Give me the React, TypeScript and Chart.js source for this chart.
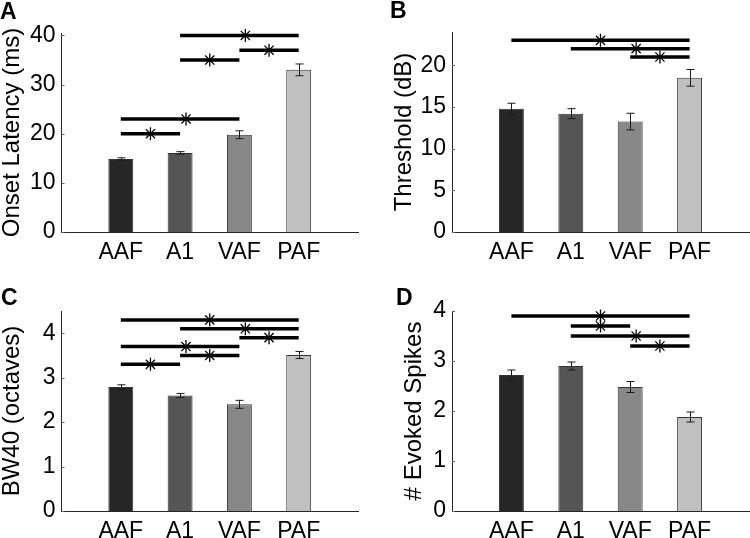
import React, { useEffect, useRef } from 'react';
import { Chart, registerables } from 'chart.js';

Chart.register(...registerables);

const FONT = "'Liberation Sans', Arial, Helvetica, sans-serif";

const groups = ['AAF', 'A1', 'VAF', 'PAF'];
const barColors = ['#262626', '#555555', '#888888', '#c0c0c0'];

// Panel A – onset latency
const latencyMean = [14.85, 16.1, 19.8, 33.0];
const latencyErr = [0.25, 0.25, 0.8, 1.2];
const latencyYTicks = [0, 10, 20, 30, 40];
const latencySigFrom = [1, 1, 2, 3, 2];
const latencySigTo = [2, 3, 3, 4, 4];
const latencySigY = [20, 23, 35, 37, 40];
const latencySigStar = [1.5, 2.1, 2.5, 3.5, 3.1];

// Panel B – threshold
const thresholdMean = [14.8, 14.2, 13.25, 18.5];
const thresholdErr = [0.65, 0.6, 1.0, 1.0];
const thresholdYTicks = [0, 5, 10, 15, 20];
const thresholdSigFrom = [1, 2, 3];
const thresholdSigTo = [4, 4, 4];
const thresholdSigY = [23, 22, 21];
const thresholdSigStar = [2.5, 3.1, 3.5];

// Panel C – BW40
const bwMean = [2.79, 2.6, 2.4, 3.51];
const bwErr = [0.05, 0.045, 0.09, 0.08];
const bwYTicks = [0, 1, 2, 3, 4];
const bwSigFrom = [1, 2, 3, 1, 2, 1];
const bwSigTo = [4, 4, 4, 3, 3, 2];
const bwSigY = [4.3, 4.1, 3.9, 3.7, 3.5, 3.3];
const bwSigStar = [2.5, 3.1, 3.5, 2.1, 2.5, 1.5];

// Panel D – evoked spikes
const spikesMean = [2.72, 2.9, 2.48, 1.88];
const spikesErr = [0.1, 0.08, 0.11, 0.1];
const spikesYTicks = [0, 1, 2, 3, 4];
const spikesSigFrom = [1, 2, 2, 3];
const spikesSigTo = [4, 3, 4, 4];
const spikesSigY = [3.9, 3.7, 3.5, 3.3];
const spikesSigStar = [2.5, 2.5, 3.1, 3.5];

const W = 375;
const H = 269;

const panels = [
  {
    letter: 'A', title: 'Onset Latency (ms)', left: 0, top: 0,
    mean: latencyMean, err: latencyErr, yTicks: latencyYTicks, yMax: 40.5,
    sigFrom: latencySigFrom, sigTo: latencySigTo, sigY: latencySigY, sigStar: latencySigStar,
    plotLeft: 61.5, plotRight: 358, plotTop: 33, plotBottom: 232, titlePad: 0, letterX: 0, letterY: 19,
  },
  {
    letter: 'B', title: 'Threshold (dB)', left: 375, top: 0,
    mean: thresholdMean, err: thresholdErr, yTicks: thresholdYTicks, yMax: 24,
    sigFrom: thresholdSigFrom, sigTo: thresholdSigTo, sigY: thresholdSigY, sigStar: thresholdSigStar,
    plotLeft: 77, plotRight: 374, plotTop: 32, plotBottom: 232, titlePad: 17, letterX: 15, letterY: 18,
  },
  {
    letter: 'C', title: 'BW40 (octaves)', left: 0, top: 269,
    mean: bwMean, err: bwErr, yTicks: bwYTicks, yMax: 4.5,
    sigFrom: bwSigFrom, sigTo: bwSigTo, sigY: bwSigY, sigStar: bwSigStar,
    plotLeft: 61.5, plotRight: 358, plotTop: 42, plotBottom: 242, titlePad: 0, letterX: 1, letterY: 36,
  },
  {
    letter: 'D', title: '# Evoked Spikes', left: 375, top: 269,
    mean: spikesMean, err: spikesErr, yTicks: spikesYTicks, yMax: 4,
    sigFrom: spikesSigFrom, sigTo: spikesSigTo, sigY: spikesSigY, sigStar: spikesSigStar,
    plotLeft: 77, plotRight: 374, plotTop: 42, plotBottom: 242, titlePad: 27, letterX: 21, letterY: 36,
  },
];

function makeOverlay(p: any) {
  return {
    id: 'overlay' + p.letter,
    afterDatasetsDraw(chart: any) {
      const { ctx, chartArea } = chart;
      const x = chart.scales.x;
      const y = chart.scales.y;
      ctx.save();
      // inward y tick marks
      ctx.strokeStyle = '#666';
      ctx.lineWidth = 1;
      p.yTicks.forEach((v: number) => {
        const py = Math.round(y.getPixelForValue(v)) + 0.5;
        ctx.beginPath();
        ctx.moveTo(chartArea.left, py);
        ctx.lineTo(chartArea.left + 3, py);
        ctx.stroke();
      });
      // error bars
      ctx.strokeStyle = '#1a1a1a';
      ctx.lineWidth = 1;
      p.mean.forEach((m: number, i: number) => {
        const px = Math.round(x.getPixelForValue(i + 1)) + 0.5;
        const yt = y.getPixelForValue(m + p.err[i]);
        const yb = y.getPixelForValue(m - p.err[i]);
        ctx.beginPath();
        ctx.moveTo(px, yt);
        ctx.lineTo(px, yb);
        ctx.moveTo(px - 4, yt);
        ctx.lineTo(px + 4, yt);
        ctx.moveTo(px - 4, yb);
        ctx.lineTo(px + 4, yb);
        ctx.stroke();
      });
      // significance lines
      ctx.strokeStyle = '#000';
      ctx.lineWidth = 3.5;
      ctx.lineCap = 'butt';
      p.sigY.forEach((v: number, i: number) => {
        const py = y.getPixelForValue(v);
        ctx.beginPath();
        ctx.moveTo(x.getPixelForValue(p.sigFrom[i]), py);
        ctx.lineTo(x.getPixelForValue(p.sigTo[i]), py);
        ctx.stroke();
      });
      // asterisks
      ctx.lineWidth = 1.3;
      p.sigY.forEach((v: number, i: number) => {
        const cx = x.getPixelForValue(p.sigStar[i]);
        const cy = y.getPixelForValue(v);
        const r = 6.5;
        ctx.beginPath();
        for (let k = 0; k < 4; k++) {
          const a = (k * Math.PI) / 4;
          ctx.moveTo(cx - r * Math.cos(a), cy - r * Math.sin(a));
          ctx.lineTo(cx + r * Math.cos(a), cy + r * Math.sin(a));
        }
        ctx.stroke();
      });
      // panel letter
      ctx.font = `bold 23px ${FONT}`;
      ctx.fillStyle = '#000';
      ctx.textBaseline = 'alphabetic';
      ctx.textAlign = 'left';
      ctx.fillText(p.letter, p.letterX, p.letterY);
      ctx.restore();
    },
  };
}

function Panel({ p }: { p: any }) {
  const ref = useRef<HTMLCanvasElement | null>(null);
  useEffect(() => {
    if (!ref.current) return;
    const chart = new Chart(ref.current, {
      type: 'bar',
      data: {
        datasets: [
          {
            data: p.mean.map((v: number, i: number) => ({ x: i + 1, y: v })),
            backgroundColor: barColors,
            borderColor: '#333',
            borderWidth: 1,
            categoryPercentage: 1,
            barPercentage: 0.42,
          },
        ],
      },
      options: {
        animation: false,
        responsive: false,
        devicePixelRatio: 1,
        layout: { padding: { left: 0, top: p.plotTop, right: W - p.plotRight, bottom: 0 } },
        plugins: { legend: { display: false }, tooltip: { enabled: false } },
        scales: {
          x: {
            type: 'linear',
            min: 0,
            max: 5,
            offset: false,
            grid: { display: false, drawTicks: false },
            border: { display: true, color: '#262626', width: 1 },
            afterBuildTicks: (scale: any) => {
              scale.ticks = groups.map((_, i) => ({ value: i + 1 }));
            },
            afterFit: (scale: any) => {
              scale.height = H - p.plotBottom;
            },
            ticks: {
              autoSkip: false,
              maxRotation: 0,
              padding: 7,
              color: '#000',
              font: { family: FONT, size: 23 },
              callback: (v: any) => groups[Number(v) - 1] ?? '',
            },
          },
          y: {
            type: 'linear',
            min: 0,
            max: p.yMax,
            grid: { display: false, drawTicks: false },
            border: { display: true, color: '#262626', width: 1 },
            afterBuildTicks: (scale: any) => {
              scale.ticks = p.yTicks.map((v: number) => ({ value: v }));
            },
            afterFit: (scale: any) => {
              scale.width = p.plotLeft;
            },
            ticks: {
              padding: 6,
              color: '#000',
              font: { family: FONT, size: 23 },
            },
            title: {
              display: true,
              text: p.title,
              color: '#000',
              font: { family: FONT, size: 24, lineHeight: 1 },
              padding: { top: p.titlePad, bottom: 0 },
            },
          },
        },
      },
      plugins: [makeOverlay(p)],
    } as any);
    return () => chart.destroy();
  }, []);
  return (
    <canvas
      ref={ref}
      width={W}
      height={H}
      style={{ position: 'absolute', left: p.left, top: p.top, width: W, height: H }}
    />
  );
}

export default function App() {
  return (
    <div style={{ position: 'absolute', left: 0, top: 0, width: 750, height: 538, background: '#fff' }}>
      {panels.map((p) => (
        <Panel key={p.letter} p={p} />
      ))}
    </div>
  );
}
